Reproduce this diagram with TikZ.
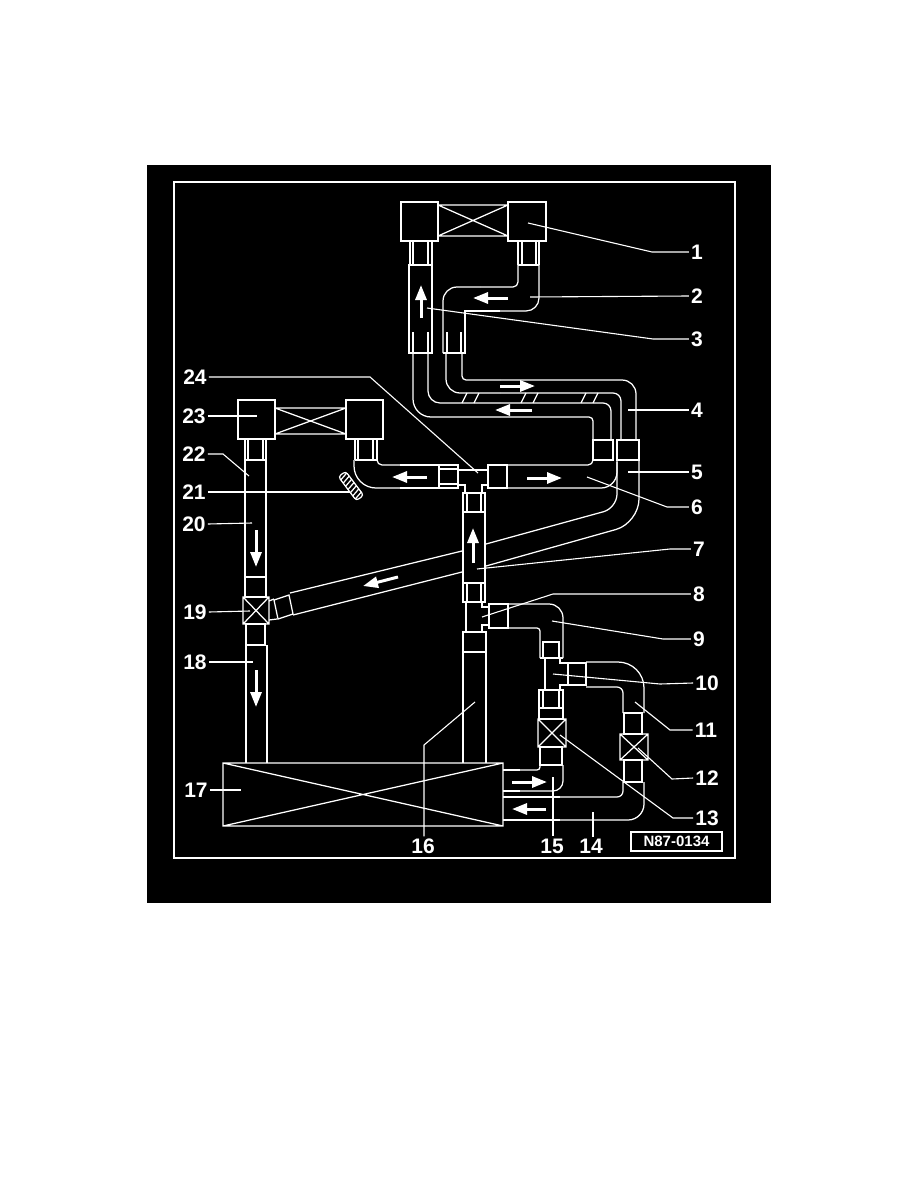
\documentclass[tikz,border=0pt]{standalone}
\usepackage{fontspec}
\setmainfont{Liberation Sans}
\usetikzlibrary{arrows.meta}
\tikzset{
	pipe/.style={draw=white, line width=1.25pt},
	leader/.style={draw=white, line width=1.1pt},
	partno/.style={text=white, inner sep=2pt, font=\bfseries\fontsize{21}{21}\selectfont},
	flow/.style={draw=white, line width=3pt, -{Triangle[length=15pt, width=11pt, fill=white]}},
}
\newcommand{\crossbox}[4]{\draw[pipe] (#1,#2) rectangle (#3,#4) (#1,#2) -- (#3,#4) (#1,#4) -- (#3,#2);}
\begin{document}
\begin{tikzpicture}[x=1pt, y=-1pt]
	\useasboundingbox (0,0) rectangle (918,1188);
	\fill[white] (0,0) rectangle (918,1188);
	\fill[black] (147,165) rectangle (771,903);
	\draw[draw=white, line width=1.5pt] (174,182) rectangle (735,858);
	\draw[pipe] (438,205) -- (508,205) (438,236) -- (508,236) (438,205) -- (508,236) (438,236) -- (508,205);
	\draw[pipe] (401,202) rectangle (438,241);
	\draw[pipe] (508,202) rectangle (546,241);
	\draw[pipe] (410,241) -- (410,265) (413,241) -- (413,265) (428,241) -- (428,265) (432,241) -- (432,265);
	\draw[pipe] (409,265) rectangle (432,353);
	\draw[pipe] (413,332) -- (413,353) (428,332) -- (428,353);
	\draw[pipe] (518,241) -- (518,265) (522,241) -- (522,265) (536,241) -- (536,265) (539,241) -- (539,265) (518,265) -- (539,265);
	\draw[pipe, rounded corners=5pt] (518,265) -- (518,287) -- (480,287);
	\draw[pipe, rounded corners=14pt] (480,287) -- (443,287) -- (443,353);
	\draw[pipe] (443,353) -- (465,353) -- (465,311) -- (500,311);
	\draw[pipe, rounded corners=13pt] (500,311) -- (539,311) -- (539,265);
	\draw[pipe] (447,332) -- (447,353) (461,332) -- (461,353);
	\draw[pipe, rounded corners=18pt] (413,353) -- (413,417) -- (500,417);
	\draw[pipe, rounded corners=4pt] (500,417) -- (593,417) -- (593,440);
	\draw[pipe, rounded corners=12pt] (428,353) -- (428,403) -- (500,403);
	\draw[pipe, rounded corners=8pt] (500,403) -- (611,403) -- (611,440);
	\draw[pipe, rounded corners=14pt] (446,353) -- (446,393) -- (500,393);
	\draw[pipe, rounded corners=8pt] (500,393) -- (621,393) -- (621,440);
	\draw[pipe, rounded corners=4pt] (462,353) -- (462,380) -- (500,380);
	\draw[pipe, rounded corners=14pt] (500,380) -- (636,380) -- (636,440);
	\foreach \x in {462,474,521,533,581,593}
		\draw[pipe] (\x,403) -- (\x+5,393);
	\draw[pipe] (593,440) rectangle (613,460);
	\draw[pipe] (617,440) rectangle (639,460);
	\draw[pipe, rounded corners=14pt] (617,460) -- (617,508) -- (486,544);
	\draw[pipe, rounded corners=24pt] (639,460) -- (639,523) -- (486,566);
	\draw[pipe] (462,551) -- (290,593) (462,572) -- (293,615);
	\draw[pipe, rounded corners=5pt] (507,465) -- (593,465) -- (593,458);
	\draw[pipe, rounded corners=16pt] (507,488) -- (617,488) -- (617,462);
	\draw[pipe] (488,465) rectangle (507,488);
	\draw[pipe] (439,465) rectangle (458,488);
	\draw[pipe] (458,470) -- (488,470) (458,485) -- (465,485) -- (465,493) (482,493) -- (482,485) -- (488,485);
	\draw[pipe] (463,493) rectangle (485,602);
	\draw[pipe] (463,512) -- (485,512) (467,493) -- (467,512) (481,493) -- (481,512);
	\draw[pipe] (463,583) -- (485,583) (467,583) -- (467,602) (481,583) -- (481,602);
	\draw[pipe] (466,602) -- (466,632) (482,602) -- (482,607) -- (489,607) (489,625) -- (482,625) -- (482,632);
	\draw[pipe] (463,632) rectangle (486,652);
	\draw[pipe] (463,632) -- (463,763) (486,632) -- (486,763);
	\draw[pipe] (238,400) rectangle (275,439);
	\draw[pipe] (346,400) rectangle (383,439);
	\draw[pipe] (275,408) -- (346,408) (275,434) -- (346,434) (275,408) -- (346,434) (275,434) -- (346,408);
	\draw[pipe] (245,439) -- (245,577) (248,439) -- (248,460) (263,439) -- (263,460) (266,439) -- (266,577) (245,460) -- (266,460);
	\draw[pipe] (245,577) rectangle (266,597);
	\crossbox{243}{597}{269}{624}
	\draw[pipe] (246,624) rectangle (265,645);
	\draw[pipe] (246,645) -- (246,763) (267,645) -- (267,763);
	\draw[pipe] (274,600) -- (289,595) -- (293,614) -- (278,619) -- cycle;
	\draw[pipe] (269,601) -- (274,599) (269,620) -- (277,619);
	\draw[pipe] (355,439) -- (355,460) (358,439) -- (358,460) (373,439) -- (373,460) (377,439) -- (377,460) (355,460) -- (377,460);
	\draw[pipe, rounded corners=22pt] (354,460) -- (354,488) -- (400,488);
	\draw[pipe] (400,488) -- (439,488);
	\draw[pipe, rounded corners=5pt] (377,460) -- (377,465) -- (400,465);
	\draw[pipe] (400,465) -- (439,465);
	\draw[pipe] (439,469) -- (458,469) (439,484) -- (458,484);
	\begin{scope}[shift={(351,486)}, rotate=-53]
		\draw[pipe, fill=black, rounded corners=3pt] (-15,-4.5) rectangle (15,4.5);
		\foreach \x in {-12,-8,...,12}
			\draw[pipe] (\x-1,-4.5) -- (\x+1,4.5);
	\end{scope}
	\draw[pipe] (489,604) rectangle (508,628);
	\draw[pipe, rounded corners=14pt] (508,604) -- (563,604) -- (563,658);
	\draw[pipe, rounded corners=3pt] (508,628) -- (540,628) -- (540,658);
	\draw[pipe] (540,658) -- (563,658) (543,642) rectangle (559,658);
	\draw[pipe] (545,658) -- (545,690) (560,658) -- (560,663) -- (568,663) (568,685) -- (560,685) -- (560,690);
	\draw[pipe] (568,663) rectangle (586,685);
	\draw[pipe, rounded corners=26pt] (586,662) -- (644,662) -- (644,713);
	\draw[pipe, rounded corners=6pt] (586,687) -- (623,687) -- (623,713);
	\draw[pipe] (624,713) rectangle (642,734);
	\crossbox{620}{734}{648}{760}
	\draw[pipe] (624,760) rectangle (642,782);
	\draw[pipe, rounded corners=16pt] (644,782) -- (644,820) -- (560,820);
	\draw[pipe] (560,820) -- (503,820);
	\draw[pipe, rounded corners=6pt] (623,782) -- (623,797) -- (560,797);
	\draw[pipe] (560,797) -- (503,797);
	\draw[pipe] (539,690) rectangle (563,719);
	\draw[pipe] (539,708) -- (563,708) (543,690) -- (543,708) (559,690) -- (559,708);
	\crossbox{538}{719}{566}{747}
	\draw[pipe] (540,747) rectangle (562,765);
	\draw[pipe, rounded corners=3pt] (540,765) -- (540,770) -- (520,770);
	\draw[pipe] (520,770) -- (503,770);
	\draw[pipe, rounded corners=10pt] (563,765) -- (563,791) -- (520,791);
	\draw[pipe] (520,791) -- (503,791);
	\crossbox{223}{763}{503}{826}
	\foreach \x/\ya/\yb in {421/318/285, 473/563/528, 256/530/567, 256/670/707}
		\draw[flow] (\x,\ya) -- (\x,\yb);
	\foreach \y/\xa/\xb in {298/508/473, 386/500/535, 410/532/495, 478/527/562, 477/427/392, 782/512/547, 809/546/512}
		\draw[flow] (\xa,\y) -- (\xb,\y);
	\draw[flow] (398,577) -- (363,586);
	\foreach \no/\x/\y in {1/697/252, 2/697/296, 3/697/339, 4/697/410, 5/697/472, 6/697/507, 7/699/549, 8/699/594, 9/699/639, 10/707/683, 11/706/730, 12/707/778, 13/707/818, 14/591/846, 15/552/846, 16/423/846, 17/196/790, 18/195/662, 19/195/612, 20/194/524, 21/194/492, 22/194/454, 23/194/416, 24/195/377}
		\node[partno] (part\no) at (\x,\y) {\no};
	\draw[leader] (528,223) -- (652,252) -- (part1.west);
	\draw[leader] (530,297) -- (part2.west);
	\draw[leader] (427,308) -- (653,339) -- (part3.west);
	\draw[leader] (628,410) -- (part4.west);
	\draw[leader] (628,472) -- (part5.west);
	\draw[leader] (587,477) -- (667,507) -- (part6.west);
	\draw[leader] (477,569) -- (670,549) -- (part7.west);
	\draw[leader] (482,617) -- (553,594) -- (part8.west);
	\draw[leader] (552,621) -- (663,639) -- (part9.west);
	\draw[leader] (553,674) -- (660,684) -- (part10.west);
	\draw[leader] (635,702) -- (670,730) -- (part11.west);
	\draw[leader] (638,748) -- (672,779) -- (part12.west);
	\draw[leader] (560,735) -- (673,818) -- (part13.west);
	\draw[leader] (593,812) -- (part14.north -| 593,812);
	\draw[leader] (553,777) -- (part15.north -| 553,777);
	\draw[leader] (475,702) -- (424,745) -- (part16.north -| 424,745);
	\draw[leader] (part17.east) -- (241,790);
	\draw[leader] (part18.east) -- (253,662);
	\draw[leader] (part19.east) -- (250,611);
	\draw[leader] (part20.east) -- (252,523);
	\draw[leader] (part21.east) -- (350,492);
	\draw[leader] (part22.east) -- (223,454) -- (249,476);
	\draw[leader] (part23.east) -- (257,416);
	\draw[leader] (part24.east) -- (370,377) -- (478,473);
	\node[draw=white, line width=1.2pt, text=white, minimum width=91pt, minimum height=19pt, inner sep=0pt, font=\bfseries\fontsize{15}{15}\selectfont] (drawingno) at (676.5,841.5) {N87-0134};
\end{tikzpicture}
\end{document}
